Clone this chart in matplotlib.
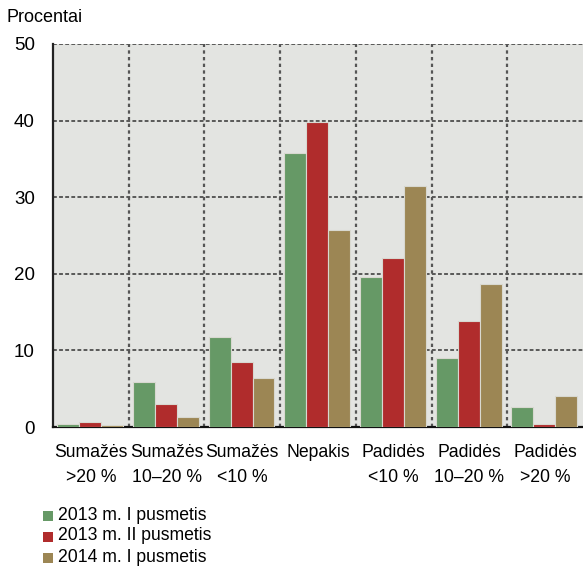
import matplotlib
matplotlib.use("Agg")
import matplotlib.pyplot as plt
import numpy as np
from matplotlib.patches import Rectangle

plt.rcParams['font.family'] = ['Liberation Sans', 'DejaVu Sans']

categories = ["Sumažės\n>20 %", "Sumažės\n10–20 %", "Sumažės\n<10 %", "Nepakis",
              "Padidės\n<10 %", "Padidės\n10–20 %", "Padidės\n>20 %"]
series_names = ["2013 m. I pusmetis", "2013 m. II pusmetis", "2014 m. I pusmetis"]
h1_2013 = [0.4, 5.9, 11.7, 35.8, 19.6, 9.0, 2.6]
h2_2013 = [0.65, 3.0, 8.5, 39.8, 22.0, 13.8, 0.35]
h1_2014 = [0.2, 1.3, 6.4, 25.7, 31.4, 18.7, 4.0]
yticks = [0, 10, 20, 30, 40, 50]
colors = ["#669966", "#B02C2C", "#9C8654"]

fig = plt.figure(figsize=(5.83, 5.67), dpi=100)
ax = fig.add_axes([53/583, 1 - 427/567, 530/583, (427-44)/567])
ax.set_facecolor("#E3E4E1")

x = np.arange(len(categories))
w = 0.29
for i, (vals, c, name) in enumerate(zip([h1_2013, h2_2013, h1_2014], colors, series_names)):
    ax.bar(x + (i - 1) * w - 0.01, vals, width=w, color=c, edgecolor="#D8D8D0",
           linewidth=0.8, label=name, zorder=3)

ax.set_xlim(-0.5, len(categories) - 0.5)
ax.set_ylim(0, 50)
ax.set_yticks(yticks)
ax.set_yticklabels([str(t) for t in yticks], fontsize=13.5)
ax.set_xticks(x)
ax.set_xticklabels(categories, fontsize=12.7, linespacing=1.65)
ax.tick_params(axis='both', length=0)
ax.tick_params(axis='y', pad=13)
ax.tick_params(axis='x', pad=12)

# horizontal grid
for t in yticks[1:]:
    ax.axhline(t, color="#333333", linestyle=(0, (2.5, 1.5)), linewidth=1.1, zorder=1)
# vertical separators between groups
for s in x[:-1] + 0.5:
    ax.axvline(s, color="#555555", linestyle=(0, (1.5, 1.5)), linewidth=1.6, zorder=1)

for sp in ["top", "right"]:
    ax.spines[sp].set_visible(False)
ax.spines["left"].set_linewidth(1.6)
ax.spines["bottom"].set_linewidth(1.6)
ax.spines["left"].set_color("#222222")
ax.spines["bottom"].set_color("#111111")

fig.text(7/583, 1 - 18/567, "Procentai", fontsize=13, va="center", ha="left")

# legend rows
for i, (c, name) in enumerate(zip(colors, series_names)):
    yc = 1 - (515 + 21 * i) / 567
    fig.patches.append(Rectangle((43/583, yc - 6/567), 10/583, 10/567,
                                 transform=fig.transFigure, facecolor=c,
                                 edgecolor="none"))
    fig.text(58/583, yc, name, fontsize=12.7, va="center", ha="left")

fig.savefig("out.png", dpi=100)
